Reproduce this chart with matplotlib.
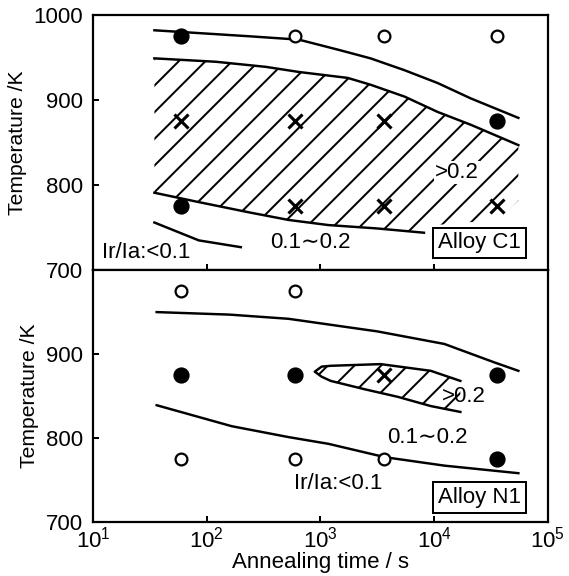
import numpy as np
import matplotlib
matplotlib.use("Agg")
import matplotlib.pyplot as plt
from matplotlib.patches import Polygon

plt.rcParams['font.family'] = ['Liberation Sans', 'DejaVu Sans']
plt.rcParams['mathtext.fontset'] = 'custom'
plt.rcParams['mathtext.rm'] = 'Liberation Sans'
plt.rcParams['hatch.linewidth'] = 0.9

# annealing times (s) and temperatures (K)
times = [60, 600, 3600, 36000]
temps = [975, 875, 775]

# marker grids: 'f' filled circle, 'o' open circle, 'x' cross, '' none
# rows = temperatures (975, 875, 775), cols = times
c1_marks = [['f', 'o', 'o', 'o'],
            ['x', 'x', 'x', 'f'],
            ['f', 'x', 'x', 'x']]
n1_marks = [['o', 'o', '', ''],
            ['f', 'f', 'x', 'f'],
            ['o', 'o', 'o', 'f']]

# Alloy C1 boundary curves (log10 time, T)
c1_top_x = [1.54, 2.37, 2.81, 3.16, 3.44, 3.74, 4.03, 4.32, 4.74]
c1_top_T = [982, 975, 971, 959, 949, 935, 920, 902, 879]
c1_hup_x = [1.54, 2.08, 2.52, 2.81, 3.24, 3.44, 3.74, 4.03, 4.32, 4.74]
c1_hup_T = [949, 945, 939, 933, 926, 918, 904, 886, 871, 847]
c1_hlo_x = [1.54, 1.93, 2.37, 2.72, 3.07, 3.5, 3.91]
c1_hlo_T = [791, 780, 768, 759, 753, 749, 744]
c1_hedge_x = [4.74, 4.74, 4.55, 4.01]   # open lower-right edge of hatched zone
c1_hedge_T = [847, 782, 759, 753]
c1_low_x = [1.54, 1.93, 2.3]
c1_low_T = [756, 735, 727]

# Alloy N1 boundary curves
n1_top_x = [1.56, 2.2, 2.72, 3.5, 4.09, 4.53, 4.74]
n1_top_T = [950, 947, 942, 927, 912, 890, 880]
n1_low_x = [1.56, 2.22, 2.72, 3.07, 3.57, 4.09, 4.74]
n1_low_T = [839, 814, 801, 793, 777, 767, 758]
lens_x = [4.23, 3.97, 3.53, 3.09, 3.01, 2.95, 3.01, 3.09, 3.39, 3.68, 3.97, 4.23]
lens_T = [868, 880, 888, 886, 885, 879, 873, 868, 858, 849, 838, 831]

labels_c1 = [('Ir/Ia:<0.1', 1.08, 721, 'left'), ('0.1\u223c0.2', 2.91, 732, 'center'),
             ('>0.2', 4.20, 815, 'center')]
labels_n1 = [('Ir/Ia:<0.1', 3.16, 746, 'center'), ('0.1\u223c0.2', 3.94, 801, 'center'),
             ('>0.2', 4.26, 849, 'center')]

fig = plt.figure(figsize=(569 / 160, 576 / 160), dpi=160)
ax1 = fig.add_axes([0.1634, 0.531, 0.7996, 0.443])
ax2 = fig.add_axes([0.1634, 0.094, 0.7996, 0.437], sharex=ax1)

def draw_marks(ax, marks):
    for i, row in enumerate(marks):
        for j, m in enumerate(row):
            x, y = times[j], temps[i]
            if m == 'f':
                ax.plot(x, y, 'o', color='k', ms=6.3, zorder=4)
            elif m == 'o':
                ax.plot(x, y, 'o', mfc='white', mec='k', mew=1.0, ms=5.3, zorder=4)
            elif m == 'x':
                ax.plot(x, y, 'x', color='k', ms=6.5, mew=1.4, zorder=4)

def curve(ax, lx, T):
    ax.plot(10 ** np.array(lx), T, color='k', lw=1.1)

box = dict(facecolor='white', edgecolor='k', lw=0.9, pad=0.22, boxstyle='square')

# top panel: Alloy C1
poly = list(zip(10 ** np.array(c1_hup_x), c1_hup_T)) + \
       list(zip(10 ** np.array(c1_hedge_x), c1_hedge_T)) + \
       list(zip(10 ** np.array(c1_hlo_x[::-1]), c1_hlo_T[::-1]))
ax1.add_patch(Polygon(poly, closed=True, facecolor='none', edgecolor='k',
                      lw=0, hatch='//'))
curve(ax1, c1_top_x, c1_top_T)
curve(ax1, c1_hup_x, c1_hup_T)
curve(ax1, c1_hlo_x, c1_hlo_T)
curve(ax1, c1_low_x, c1_low_T)
draw_marks(ax1, c1_marks)
for s, lx, T, ha in labels_c1:
    t = ax1.text(10 ** lx, T, s, ha=ha, va='center', fontsize=10, zorder=5)
    if s == '>0.2':
        t.set_bbox(dict(facecolor='white', edgecolor='none', pad=0.5))
ax1.text(10 ** 4.40, 732, 'Alloy C1', ha='center', va='center', fontsize=10,
         bbox=box, zorder=5)

# bottom panel: Alloy N1
ax2.add_patch(Polygon(list(zip(10 ** np.array(lens_x), lens_T)), closed=True,
                      facecolor='none', edgecolor='k', lw=0, hatch='//'))
curve(ax2, lens_x, lens_T)
curve(ax2, n1_top_x, n1_top_T)
curve(ax2, n1_low_x, n1_low_T)
draw_marks(ax2, n1_marks)
for s, lx, T, ha in labels_n1:
    ax2.text(10 ** lx, T, s, ha=ha, va='center', fontsize=10, zorder=5)
ax2.text(10 ** 4.40, 729, 'Alloy N1', ha='center', va='center', fontsize=10,
         bbox=box, zorder=5)

for ax in (ax1, ax2):
    ax.set_xscale('log')
    ax.set_xlim(10, 1e5)
    ax.set_ylim(700, 1000)
    ax.set_ylabel('Temperature /K', fontsize=9.5, labelpad=3)
    ax.tick_params(direction='in', length=2.5, width=0.9, labelsize=10, pad=2)
    ax.tick_params(axis='y', pad=4.5)
    ax.tick_params(which='minor', length=0)
    for sp in ax.spines.values():
        sp.set_linewidth(1.0)
ax1.set_yticks([700, 800, 900, 1000])
ax2.set_yticks([700, 800, 900])
ax1.tick_params(labelbottom=False)
ax2.set_xticks([10, 100, 1000, 10000, 100000])
ax2.set_xticklabels([r'$\mathregular{10^{%d}}$' % k for k in range(1, 6)])
ax2.set_xlabel('Annealing time / s', fontsize=10, labelpad=0)

fig.savefig('out.png', dpi=160)
